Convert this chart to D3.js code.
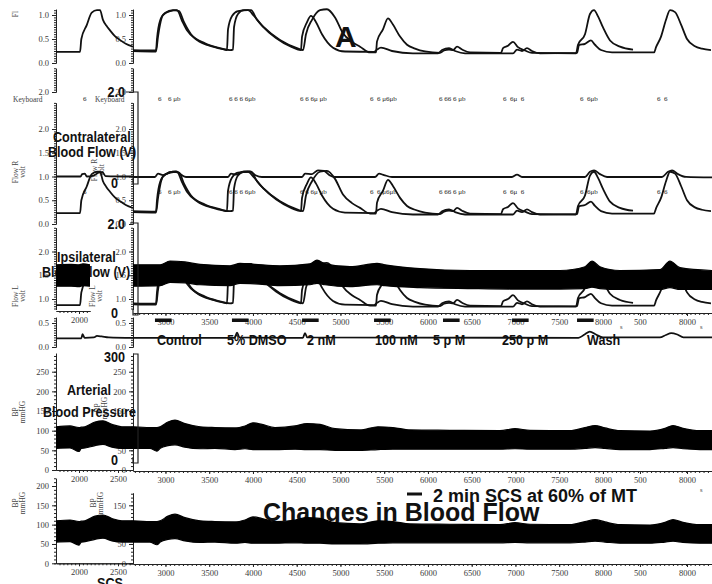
<!DOCTYPE html>
<html><head><meta charset="utf-8">
<script src="https://cdn.jsdelivr.net/npm/d3@7"></script>
<style>
body{margin:0;background:#fff;}
svg{display:block;background:#fff;}
.ax text{font-family:"Liberation Serif","Times New Roman",serif;font-size:8.5px;fill:#3a3a3a;}
.ax path,.ax line{stroke:#222;stroke-width:1;}
.bold{font-family:"Liberation Sans",Arial,sans-serif;font-weight:bold;fill:#111;}
.small{font-family:"Liberation Serif","Times New Roman",serif;fill:#444;white-space:pre;}
.ev{font-family:"Liberation Serif","Times New Roman",serif;fill:#222;white-space:pre;font-size:7px;}
.trace{fill:none;stroke:#111;stroke-width:1.8;stroke-linejoin:round;}
</style></head><body>
<svg id="c" width="712" height="584"></svg>
<script>
// ---------------- data ----------------
const mainTickValues = [3000,3500,4000,4500,5000,5500,6000,6500,7000,7500,8000,8423,8961];
const mainTickLabels = ["3000","3500","4000","4500","5000","5500","6000","6500","7000","7500","8000","500","8000"];
const leftTickValues = [2000,2500];
const leftTickLabels = ["2000","2500"];

const conditions = ["Control","5% DMSO","2 nM","100 nM","5 p M","250 p M","Wash"];
const conditionTimes = [2903,3703,4618,5395,6058,6847,7818];
const scsStarts = [2880,3760,4561,5384,6172,6961,7704];
const scsDuration = 190;

const eventTimes = [2915,3029,3726,4538,5338,6127,6858,7738,8618];
const eventLabels = ["6","6 \u03bcb","6 6 6 6\u03bcb","6 6 6\u03bc \u03bcb","6  6 \u03bc6\u03bcb","6 66 6 \u03bcb","6  6\u03bc  6","6  6\u03bcb","6  6"];
const leftEventTime = 2051;

// Flow R (volt) – left window
const flowLeft = [[1705,0.23],[2013,0.23],[2030,0.5],[2099,0.79],[2163,1.05],[2230,1.1],[2269,1.1],[2307,0.9],[2350,0.78],[2397,0.68],[2460,0.56],[2525,0.48],[2600,0.4],[2692,0.34]];
// Flow R (volt) – main window, two overlaid recordings
const flowTrace1 = [[2629,0.25],[2892,0.24],[2915,0.55],[2938,0.8],[2972,1.0],[3052,1.08],[3132,1.1],[3189,0.88],[3246,0.68],[3361,0.48],[3543,0.34],[3738,0.27],[3772,0.28],[3784,0.75],[3829,1.02],[3898,1.1],[3978,1.1],[4046,0.9],[4126,0.74],[4309,0.48],[4503,0.31],[4572,0.27],[4606,0.6],[4675,0.9],[4766,1.1],[4846,1.12],[4938,0.95],[5029,0.62],[5132,0.44],[5224,0.34],[5338,0.22],[5406,0.22],[5418,0.45],[5486,0.7],[5543,0.93],[5600,0.8],[5681,0.55],[5761,0.38],[5852,0.3],[5966,0.24],[6138,0.21],[6184,0.26],[6241,0.28],[6287,0.27],[6333,0.34],[6390,0.28],[6481,0.22],[6835,0.21],[6858,0.31],[6915,0.36],[6972,0.44],[7029,0.33],[7109,0.26],[7189,0.21],[7692,0.2],[7715,0.38],[7795,0.6],[7852,1.02],[7898,1.1],[7944,0.97],[8001,0.74],[8081,0.47],[8195,0.34],[8344,0.28]];
const flowTrace2 = [[2629,0.27],[2892,0.26],[2903,0.5],[2938,0.88],[2995,1.04],[3086,1.1],[3155,1.08],[3212,0.85],[3292,0.6],[3452,0.41],[3646,0.3],[3703,0.27],[3715,0.7],[3761,0.98],[3829,1.08],[3943,1.1],[4012,0.98],[4103,0.78],[4263,0.52],[4446,0.33],[4549,0.27],[4561,0.55],[4618,0.85],[4663,0.98],[4721,0.85],[4789,0.6],[4915,0.32],[5052,0.24],[5383,0.23],[5418,0.28],[5463,0.32],[5589,0.25],[5829,0.2],[6115,0.2],[6161,0.27],[6241,0.31],[6310,0.25],[6424,0.2],[6972,0.2],[7018,0.28],[7075,0.25],[7132,0.31],[7189,0.25],[7281,0.2],[7704,0.21],[7726,0.37],[7795,0.4],[7863,0.47],[7909,0.38],[7978,0.27],[8104,0.22],[8584,0.22],[8607,0.33],[8664,0.55],[8721,0.9],[8767,1.1],[8824,1.06],[8893,0.8],[8961,0.5],[9052,0.35],[9132,0.3],[9235,0.27]];
// Flow R reference line near 1.0 V
const flatLeft = [[1705,1.0],[2020,1.0],[2040,1.05],[2075,1.06],[2100,1.0],[2190,1.02],[2250,1.08],[2300,1.09],[2340,1.01],[2692,1.0]];
const flatMain = [[2629,0.99],[2880,0.99],[2915,1.06],[2972,1.03],[3052,1.09],[3120,1.11],[3178,1.04],[3235,0.99],[3715,0.99],[3749,1.06],[3806,1.04],[3886,1.1],[3966,1.11],[4035,1.02],[4103,0.99],[4561,0.99],[4595,1.06],[4675,1.05],[4743,1.13],[4812,1.12],[4880,1.02],[4938,0.99],[5395,0.99],[5441,1.06],[5498,1.03],[5589,0.99],[6960,0.99],[7018,1.04],[7075,0.99],[7795,0.99],[7852,1.1],[7898,1.13],[7966,1.05],[8047,0.99],[8675,0.99],[8744,1.1],[8790,1.13],[8858,1.05],[8950,0.99],[9247,0.98]];
// Flow L (volt) pulsatile envelope: [time, upper, lower]
const bandLLeft = [[1705,1.72,1.27],[1900,1.73,1.27],[2000,1.72,1.26],[2050,1.74,1.28],[2141,1.72,1.27]];
const bandLMain = [[2629,1.72,1.27],[2940,1.72,1.28],[3052,1.8,1.35],[3223,1.78,1.34],[3395,1.73,1.3],[3738,1.7,1.28],[3852,1.75,1.33],[4023,1.73,1.32],[4309,1.7,1.28],[4652,1.74,1.3],[4732,1.82,1.33],[4823,1.74,1.3],[5109,1.68,1.26],[5418,1.75,1.3],[5509,1.72,1.28],[5909,1.64,1.24],[6481,1.6,1.22],[6938,1.6,1.21],[7509,1.6,1.21],[7795,1.68,1.22],[7875,1.8,1.25],[7966,1.68,1.22],[8195,1.6,1.2],[8652,1.62,1.2],[8766,1.8,1.24],[8881,1.66,1.2],[9250,1.6,1.2]];
// small flow channel (0-0.5)
const smallLeft = [[1705,0.18],[2030,0.18],[2045,0.27],[2060,0.22],[2075,0.19],[2190,0.2],[2230,0.23],[2290,0.22],[2380,0.2],[2692,0.19]];
const smallMain = [[2629,0.19],[3790,0.19],[3818,0.3],[3846,0.2],[4570,0.19],[4595,0.29],[4620,0.2],[7720,0.19],[7790,0.26],[7850,0.32],[7920,0.26],[8000,0.2],[8650,0.2],[8720,0.25],[8780,0.29],[8850,0.26],[8920,0.2],[9250,0.2]];
// Arterial BP envelope (mmHg): [time, upper, lower]
const bpLeft = [[1705,110,55],[1885,112,56],[2000,108,47],[2030,109,55],[2077,110,56],[2205,122,62],[2307,125,65],[2422,116,58],[2550,110,55],[2692,110,55]];
const bpMain = [[2629,110,55],[2823,108,55],[2903,108,48],[2940,110,55],[3029,122,62],[3109,127,64],[3223,118,58],[3395,110,54],[3566,108,55],[3795,107,52],[3909,112,54],[4000,120,52],[4103,116,52],[4252,108,52],[4481,112,53],[4618,118,52],[4766,116,52],[4938,105,50],[5224,102,50],[5429,110,52],[5600,108,53],[5795,102,53],[6252,101,53],[6823,100,53],[6995,105,54],[7167,101,53],[7624,100,53],[7795,108,55],[7910,113,57],[8024,107,55],[8195,100,52],[8538,99,52],[8710,106,55],[8801,113,57],[8915,106,54],[9109,100,52],[9250,100,52]];

// ---------------- drawing ----------------
const svg = d3.select("#c");
const defs = svg.append("defs");
function clip(id,x,w){defs.append("clipPath").attr("id",id).append("rect").attr("x",x).attr("y",0).attr("width",w).attr("height",584);}
clip("cl",56,77); clip("cm",133,580); clip("cld",56,34);

const xL = d3.scaleLinear().domain([1705,2692]).range([56,133]);
const xM = d3.scaleLinear().domain([2629,9250]).range([133,712.3]);

const yA = d3.scaleLinear().domain([0,1]).range([63,15]);
const yB = d3.scaleLinear().domain([2,2.5]).range([92,68.25]);
const yC = d3.scaleLinear().domain([0,2]).range([224,129]);
const yD = d3.scaleLinear().domain([0,2]).range([346.5,251.5]);
const yDLow = d3.scaleLinear().domain([0,2]).range([316.1,221.1]);
const yE = d3.scaleLinear().domain([0,0.5]).range([347,323]);
const yF = d3.scaleLinear().domain([0,250]).range([470,371.7]);
const yG = d3.scaleLinear().domain([0,200]).range([563.3,486]);

const f1 = d3.format(".1f"), f0 = d3.format("d");

function rng(lo,hi,step){
  const a=Math.ceil(lo/step-1e-6), b=Math.floor(hi/step+1e-6);
  return d3.range(a,b+1).map(k=>+(k*step).toFixed(6));
}
function yAxis(x,scale,lo,hi,majors,step,fmt){
  const s = scale.copy().domain([lo,hi]).range([scale(lo),scale(hi)]);
  const g = svg.append("g").attr("class","ax").attr("transform",`translate(${x},0)`);
  g.append("g").call(d3.axisLeft(s).tickValues(rng(lo,hi,step)).tickSize(2).tickSizeOuter(0).tickFormat(""));
  g.append("g").call(d3.axisLeft(s).tickValues(majors).tickSize(4).tickSizeOuter(0).tickPadding(3).tickFormat(fmt));
}
function xAxis(y,scale,lo,hi,majors,labels,step){
  const s = scale.copy().domain([lo,hi]).range([scale(lo),scale(hi)]);
  const g = svg.append("g").attr("class","ax").attr("transform",`translate(0,${y})`);
  g.append("g").call(d3.axisBottom(s).tickValues(rng(lo,hi,step)).tickSize(2).tickSizeOuter(0).tickFormat(""));
  g.append("g").call(d3.axisBottom(s).tickValues(majors).tickSize(3).tickSizeOuter(0).tickPadding(3)
    .tickFormat(d=>labels[majors.indexOf(d)]));
}
function boldText(txt,x,y,size,anchor,squeeze){
  const t = svg.append("text").attr("class","bold").attr("x",x).attr("y",y).attr("font-size",size).text(txt);
  const w = t.node().getComputedTextLength()*squeeze;
  const x0 = anchor==="end"? x-w : anchor==="middle"? x-w/2 : x;
  t.attr("x",x0).attr("textLength",w).attr("lengthAdjust","spacingAndGlyphs");
  return t;
}
function rotLabel(x,y,lines){
  lines.forEach((ln,i)=>{
    svg.append("text").attr("class","small").attr("font-size",7.5).attr("text-anchor","middle")
      .attr("transform",`translate(${x+i*6.5},${y}) rotate(-90)`).text(ln);
  });
}
const lineGen = (xs,ys)=>d3.line().curve(d3.curveMonotoneX).x(d=>xs(d[0])).y(d=>ys(d[1]));
function trace(data,xs,ys,clipId,w){
  svg.append("path").datum(data).attr("class","trace").attr("clip-path",`url(#${clipId})`)
    .attr("stroke-width",w||1.8).attr("d",lineGen(xs,ys));
}
function band(data,xs,ys,clipId){
  svg.append("path").datum(data).attr("clip-path",`url(#${clipId})`)
    .attr("fill","#000").attr("stroke","#000").attr("stroke-width",1.2)
    .attr("d",d3.area().curve(d3.curveMonotoneX).x(d=>xs(d[0])).y0(d=>ys(d[2])).y1(d=>ys(d[1])));
}

// texts that are partly covered by traces
boldText("Changes in Blood Flow",263,521,25,"start",1);
boldText("Blood Flow (V)",42,277,14,"start",0.9);

// rotated channel titles
rotLabel(18,14,["Fl"]);
rotLabel(18,172,["Flow R","volt"]);
rotLabel(97,170,["Flow R","volt"]);
rotLabel(18,296,["Flow L","volt"]);
rotLabel(95,296,["Flow L","volt"]);
rotLabel(18,412,["BP","mmHG"]);
rotLabel(100,408,["BP","mmHG"]);
rotLabel(18,503,["BP","mmHG"]);
rotLabel(96,503,["BP","mmHG"]);
svg.append("text").attr("class","small").attr("font-size",7.5).attr("x",13).attr("y",102).text("Keyboard");
svg.append("text").attr("class","small").attr("font-size",7.5).attr("x",95).attr("y",102).text("Keyboard");

// y axes
[56,133].forEach(x=>{
  yAxis(x,yA,0,1.12,[0,0.5,1],0.05,f1);
  yAxis(x,yB,2,2.5,[2],0.05,f1);
  yAxis(x,yC,0,2.55,[0,0.5,1,1.5,2],0.05,f1);
  yAxis(x,yD,0.78,2.5,[1,1.5,2],0.05,f1);
  yAxis(x,yE,0,0.62,[0,0.5],0.05,f1);
  yAxis(x,yF,0,297,[0,50,100,150,200,250],10,f0);
});
yAxis(56,yG,0,220,[0,50,100,150,200],10,f0);
yAxis(133,yG,0,182,[0,50,100,150],10,f0);

// x axes
xAxis(311,xL,1705,2141,[2000],leftTickLabels,50);
xAxis(313,xM,2629,9250,mainTickValues,mainTickLabels,50);
xAxis(470,xL,1705,2692,leftTickValues,leftTickLabels,50);
xAxis(471,xM,2629,9250,mainTickValues,mainTickLabels,50);
xAxis(563.3,xL,1705,2692,leftTickValues,leftTickLabels,50);
xAxis(564,xM,2629,9250,mainTickValues,mainTickLabels,50);

// Row A: Flow R (top crop)
trace(flowLeft,xL,yA,"cl");
trace(flowTrace1,xM,yA,"cm");
trace(flowTrace2,xM,yA,"cm");

// Keyboard events (row B and repeated in row C)
[101,194].forEach(yy=>{
  svg.append("text").attr("class","ev").attr("x",xL(leftEventTime)).attr("y",yy).text("6");
  eventTimes.forEach((t,i)=>{
    svg.append("text").attr("class","ev").attr("x",xM(t)).attr("y",yy).text(eventLabels[i]);
  });
});

// Row C: Flow R
trace(flatLeft,xL,yC,"cl");
trace(flatMain,xM,yC,"cm");
trace(flowLeft,xL,yC,"cl");
trace(flowTrace1,xM,yC,"cm");
trace(flowTrace2,xM,yC,"cm");

// Row D: Flow L with overlaid Flow R recordings
trace(flowLeft,xL,yDLow,"cld");
trace(flowTrace1,xM,yDLow,"cm");
trace(flowTrace2,xM,yDLow,"cm");
band(bandLLeft,xL,yD,"cld");
band(bandLMain,xM,yD,"cm");

// Row E: small flow channel
trace(smallLeft,xL,yE,"cl",2);
trace(smallMain,xM,yE,"cm",2);

// Rows F & G: arterial pressure
band(bpLeft,xL,yF,"cl");
band(bpMain,xM,yF,"cm");
band(bpLeft,xL,yG,"cl");
band(bpMain,xM,yG,"cm");

// scale brackets
const br = svg.append("g").attr("fill","none").attr("stroke","#222").attr("stroke-width",1.2);
br.append("path").attr("d","M126,92H138V184H133V178");
br.append("path").attr("d","M130,223H138V315H133V309");
br.append("path").attr("d","M133,354H138V463H133V457");

// bold labels on top
boldText("2.0",125,97,14,"end",0.9);
boldText("Contralateral",53,142,14,"start",0.9);
boldText("Blood Flow (V)",48,157,14,"start",0.9);
boldText("0",118,188,14,"end",0.9);
boldText("2.0",125,229,14,"end",0.9);
boldText("Ipsilateral",57,262,14,"start",0.9);
boldText("0",118,318,14,"end",0.9);
boldText("300",125,362,14,"end",0.9);
boldText("Arterial",67,395,14,"start",0.9);
boldText("Blood Pressure",43,417,14,"start",0.9);
boldText("0",118,465,14,"end",0.9);
boldText("SCS",97,588,14,"start",0.9);
boldText("A",335,47,30,"start",1);

conditions.forEach((c,i)=>boldText(c,xM(conditionTimes[i]),345,14,"start",0.9));

// SCS bars
svg.append("g").selectAll("rect").data(scsStarts).join("rect")
  .attr("x",d=>xM(d)).attr("width",d=>xM(d+scsDuration)-xM(d))
  .attr("y",318.5).attr("height",3.5).attr("fill","#111");

// legend
svg.append("line").attr("x1",407).attr("x2",422).attr("y1",494).attr("y2",494).attr("stroke","#111").attr("stroke-width",3);
boldText("2 min SCS at 60% of MT",433,502,18,"start",1);

// unit marks
[[620,329],[700,329],[700,492]].forEach(p=>svg.append("text").attr("class","small").attr("font-size",6.5).attr("x",p[0]).attr("y",p[1]).text("s"));
</script>
</body></html>
